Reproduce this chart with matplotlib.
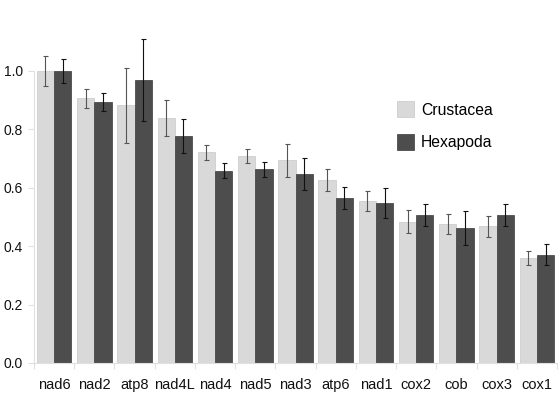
import matplotlib
matplotlib.use("Agg")
import matplotlib.pyplot as plt
import numpy as np

genes = ["nad6", "nad2", "atp8", "nad4L", "nad4", "nad5", "nad3", "atp6", "nad1", "cox2", "cob", "cox3", "cox1"]
crustacea = [1.000, 0.906, 0.882, 0.839, 0.721, 0.709, 0.694, 0.626, 0.555, 0.484, 0.477, 0.468, 0.358]
crustacea_err = [0.051, 0.031, 0.128, 0.062, 0.027, 0.023, 0.056, 0.038, 0.033, 0.040, 0.034, 0.036, 0.024]
hexapoda = [1.000, 0.893, 0.969, 0.778, 0.659, 0.663, 0.647, 0.566, 0.547, 0.507, 0.462, 0.506, 0.370]
hexapoda_err = [0.041, 0.030, 0.139, 0.059, 0.027, 0.026, 0.054, 0.037, 0.052, 0.039, 0.057, 0.037, 0.036]
yticks = [0.0, 0.2, 0.4, 0.6, 0.8, 1.0]

plt.rcParams['font.family'] = ['Liberation Sans', 'DejaVu Sans']

fig = plt.figure(figsize=(5.58, 3.98), dpi=100)
ax = fig.add_axes([34/558, 35/398, 523/558, 350.4/398])

x = np.arange(len(genes))
w = 0.43
c_light = "#d9d9d9"
c_dark = "#4d4d4d"
ax.bar(x - w/2, crustacea, w, color=c_light, edgecolor="#c8c8c8", linewidth=0.5, label="Crustacea", zorder=2)
ax.bar(x + w/2, hexapoda, w, color=c_dark, edgecolor="#3a3a3a", linewidth=0.5, label="Hexapoda", zorder=2)
ax.errorbar(x - w/2, crustacea, yerr=crustacea_err, fmt="none", ecolor="#555555", elinewidth=0.8, capsize=1.8, capthick=0.8, zorder=3)
ax.errorbar(x + w/2, hexapoda, yerr=hexapoda_err, fmt="none", ecolor="#111111", elinewidth=0.8, capsize=1.8, capthick=0.8, zorder=3)

ax.set_xlim(-0.5, len(genes) - 0.5)
ax.set_ylim(0, 1.2)
ax.set_yticks(yticks)
ax.set_yticklabels([f"{v:.1f}" for v in yticks])
ax.set_xticks(x)
ax.set_xticklabels(genes)
ax.set_xticks(np.arange(len(genes) + 1) - 0.5, minor=True)
ax.tick_params(axis="x", which="major", length=0, pad=11, labelsize=10.5, labelcolor="#111111")
ax.tick_params(axis="x", which="minor", length=4, color="#e0e0e0", width=0.8)
ax.tick_params(axis="y", length=4, color="#e0e0e0", width=0.8, labelsize=10, labelcolor="#111111", pad=4)

for s in ["top", "right"]:
    ax.spines[s].set_visible(False)
for s in ["left", "bottom"]:
    ax.spines[s].set_color("#e0e0e0")
    ax.spines[s].set_linewidth(0.8)
ax.spines["left"].set_bounds(0, 1.0)

leg = ax.legend(loc="upper left", bbox_to_anchor=(357/523, 1 - (95 - 12.6)/350.4), frameon=False,
                fontsize=11.3, handlelength=1.05, handleheight=1.2, labelspacing=1.05, handletextpad=0.45, borderaxespad=0)

fig.savefig("out.png", dpi=100)
